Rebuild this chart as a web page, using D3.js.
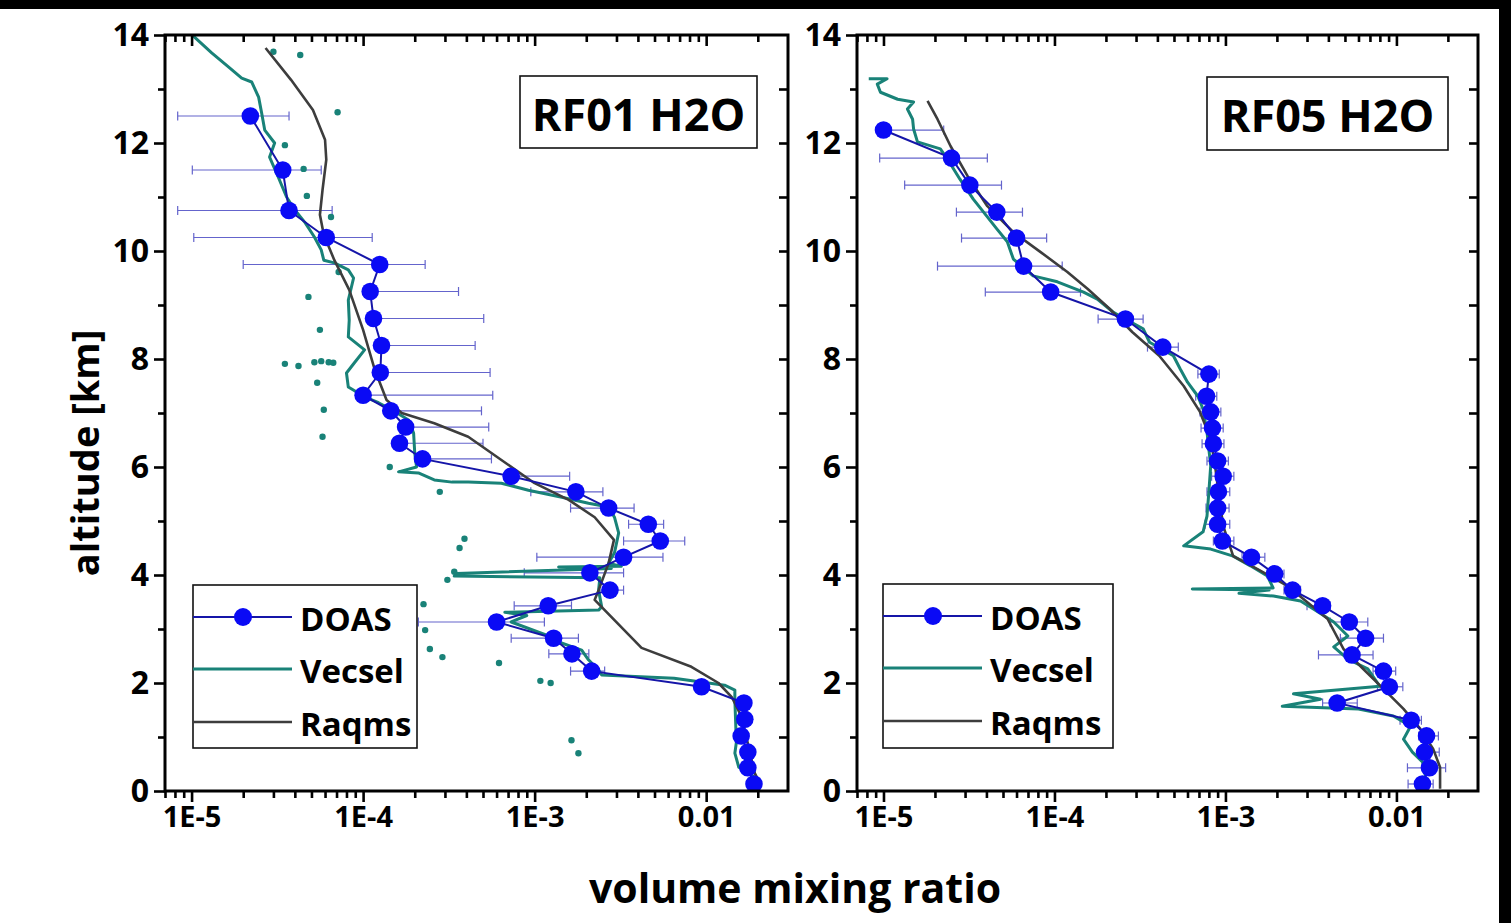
<!DOCTYPE html>
<html><head><meta charset="utf-8">
<script src="https://cdn.jsdelivr.net/npm/d3@7"></script>
<style>
html,body{margin:0;padding:0;background:#fff;}
svg{display:block;}
text{font-family:"Open Sans",sans-serif;font-weight:700;fill:#000;}
</style></head><body>
<svg id="c" width="1511" height="923"></svg>
<script>
// ---------------- DATA ----------------
const xDomain = [7e-6, 0.03];
const yDomain = [0, 14];
const xMajorTicks = [1e-5, 1e-4, 1e-3, 1e-2];
const xMajorLabels = ["1E-5", "1E-4", "1E-3", "0.01"];
const yMajorTicks = [0, 2, 4, 6, 8, 10, 12, 14];
const yMinorTicks = [1, 3, 5, 7, 9, 11, 13];
const seriesNames = ["DOAS", "Vecsel", "Raqms"];
const panelTitles = ["RF01 H2O", "RF05 H2O"];

// DOAS: [altitude km, vmr, lower error end, upper error end]
const rf01Doas = [
  [12.5, 2.2e-5, 8.3e-6, 3.7e-5],
  [11.5, 3.4e-5, 1.01e-5, 5.7e-5],
  [10.75, 3.7e-5, 8.3e-6, 6.6e-5],
  [10.25, 6.1e-5, 1.03e-5, 1.13e-4],
  [9.75, 1.25e-4, 2.0e-5, 2.3e-4],
  [9.25, 1.1e-4, null, 3.6e-4],
  [8.75, 1.15e-4, null, 5.05e-4],
  [8.25, 1.28e-4, null, 4.5e-4],
  [7.75, 1.26e-4, null, 5.5e-4],
  [7.33, 1.0e-4, null, 5.7e-4],
  [7.04, 1.45e-4, null, 4.9e-4],
  [6.74, 1.77e-4, null, 5.4e-4],
  [6.44, 1.63e-4, null, 5.0e-4],
  [6.15, 2.22e-4, null, 5.6e-4],
  [5.83, 7.3e-4, null, 1.6e-3],
  [5.54, 1.74e-3, 9.5e-4, 2.5e-3],
  [5.24, 2.7e-3, 1.62e-3, 3.8e-3],
  [4.94, 4.6e-3, 3.53e-3, 5.65e-3],
  [4.63, 5.4e-3, 3.3e-3, 7.5e-3],
  [4.33, 3.3e-3, 1.03e-3, 5.6e-3],
  [4.04, 2.1e-3, 8.7e-4, 3.3e-3],
  [3.72, 2.75e-3, 2.36e-3, 3.3e-3],
  [3.43, 1.2e-3, 7.6e-4, 1.64e-3],
  [3.13, 6.0e-4, 2.1e-4, 1.14e-3],
  [2.83, 1.29e-3, 7.3e-4, 1.8e-3],
  [2.54, 1.65e-3, 1.21e-3, 2.07e-3],
  [2.22, 2.15e-3, 1.62e-3, 2.56e-3],
  [1.93, 9.4e-3, null, null],
  [1.63, 1.66e-2, null, null],
  [1.33, 1.68e-2, null, null],
  [1.02, 1.6e-2, null, null],
  [0.72, 1.75e-2, null, null],
  [0.43, 1.75e-2, null, null],
  [0.13, 1.9e-2, null, null]
];
const rf05Doas = [
  [12.24, 1.0e-5, null, 2.25e-5],
  [11.72, 2.5e-5, 9.5e-6, 4.05e-5],
  [11.22, 3.2e-5, 1.33e-5, 4.9e-5],
  [10.72, 4.6e-5, 2.67e-5, 6.5e-5],
  [10.24, 6.0e-5, 2.86e-5, 9.0e-5],
  [9.72, 6.6e-5, 2.07e-5, 1.11e-4],
  [9.24, 9.5e-5, 3.94e-5, 1.42e-4],
  [8.74, 2.6e-4, 1.8e-4, 3.3e-4],
  [8.22, 4.3e-4, 3.5e-4, 5.3e-4],
  [7.72, 8.0e-4, 6.9e-4, 9.2e-4],
  [7.31, 7.75e-4, 6.7e-4, 8.9e-4],
  [7.02, 8.2e-4, 7.1e-4, 9.4e-4],
  [6.72, 8.4e-4, 7.2e-4, 9.7e-4],
  [6.43, 8.5e-4, 7.3e-4, 9.8e-4],
  [6.11, 9.0e-4, 7.8e-4, 1.04e-3],
  [5.83, 9.7e-4, 8.3e-4, 1.12e-3],
  [5.54, 9.1e-4, 7.8e-4, 1.06e-3],
  [5.24, 9.0e-4, 7.7e-4, 1.05e-3],
  [4.94, 9.0e-4, 7.6e-4, 1.06e-3],
  [4.63, 9.6e-4, 8.5e-4, 1.12e-3],
  [4.33, 1.42e-3, 1.25e-3, 1.7e-3],
  [4.02, 1.94e-3, 1.75e-3, 2.2e-3],
  [3.72, 2.47e-3, 2.2e-3, 2.75e-3],
  [3.43, 3.7e-3, 3.0e-3, 4.1e-3],
  [3.13, 5.3e-3, 4.1e-3, 6.8e-3],
  [2.83, 6.6e-3, 4.7e-3, 8.4e-3],
  [2.52, 5.5e-3, 3.5e-3, 7.3e-3],
  [2.22, 8.4e-3, 7.3e-3, 9.9e-3],
  [1.93, 9.1e-3, 7.75e-3, 1.09e-2],
  [1.63, 4.5e-3, 3.7e-3, 5.9e-3],
  [1.31, 1.22e-2, 1.05e-2, 1.4e-2],
  [1.02, 1.5e-2, 1.35e-2, 1.76e-2],
  [0.72, 1.46e-2, 1.33e-2, 1.78e-2],
  [0.43, 1.56e-2, 1.16e-2, 1.94e-2],
  [0.13, 1.42e-2, 1.17e-2, 1.64e-2]
];

// Vecsel in-situ profile: [altitude km, vmr]
const rf01Vecsel = [
  [14.1, 9.6e-6], [13.96, 1.04e-5], [13.67, 1.31e-5], [13.41, 1.64e-5], [13.2, 1.96e-5],
  [13.13, 2.24e-5], [12.85, 2.46e-5], [12.56, 2.56e-5], [12.24, 2.67e-5], [12.0, 3.05e-5],
  [11.74, 2.85e-5], [11.37, 3.2e-5], [11.0, 3.58e-5], [10.76, 4.0e-5], [10.52, 4.6e-5],
  [10.26, 5.2e-5], [10.02, 5.7e-5], [9.83, 5.9e-5], [9.78, 6.8e-5], [9.65, 8.2e-5],
  [9.5, 8.8e-5], [9.09, 8.2e-5], [8.72, 8.3e-5], [8.41, 8.2e-5], [8.17, 1.02e-4],
  [7.93, 8.9e-5], [7.74, 8.0e-5], [7.48, 8.2e-5], [7.3, 1.02e-4], [7.19, 1.23e-4],
  [7.06, 1.47e-4], [6.87, 1.84e-4], [6.63, 1.97e-4], [6.26, 2.0e-4], [6.0, 2.05e-4],
  [5.91, 1.61e-4], [5.89, 2.1e-4], [5.76, 2.6e-4], [5.72, 3.3e-4], [5.72, 4.1e-4],
  [5.7, 6.4e-4], [5.57, 9.2e-4], [5.44, 1.44e-3], [5.33, 2.06e-3], [5.26, 2.7e-3],
  [5.07, 2.92e-3], [4.78, 3.09e-3], [4.41, 2.92e-3], [4.22, 2.7e-3], [4.16, 3.2e-3],
  [4.15, 1.38e-3], [4.12, 2.8e-3], [4.03, 3.5e-4], [3.98, 3.4e-4], [3.95, 2.4e-3],
  [3.72, 2.36e-3], [3.41, 2.46e-3], [3.35, 2.36e-3], [3.31, 6.7e-4], [3.25, 9.0e-4],
  [3.13, 7.3e-4], [2.83, 1.31e-3], [2.76, 1.38e-3], [2.61, 1.88e-3], [2.43, 2.06e-3],
  [2.24, 2.36e-3], [2.15, 2.46e-3], [2.09, 6.5e-3], [1.96, 1.28e-2], [1.87, 1.47e-2],
  [1.69, 1.47e-2], [0.9, 1.5e-2], [0.7, 1.47e-2], [0.44, 1.55e-2], [0.33, 1.77e-2], [0.2, 2.02e-2]
];
const rf01VecselDots = [
  [13.69, 3.0e-5], [13.63, 4.3e-5], [12.57, 7.1e-5], [11.96, 3.5e-5], [11.52, 4.5e-5],
  [11.02, 4.7e-5], [10.63, 6.5e-5], [9.61, 7.2e-5], [9.15, 4.8e-5], [8.54, 5.6e-5],
  [7.91, 3.5e-5], [7.87, 4.2e-5], [7.94, 5.2e-5], [7.96, 5.7e-5], [7.94, 6.3e-5],
  [7.93, 6.7e-5], [7.56, 5.4e-5], [7.06, 5.9e-5], [6.56, 5.8e-5], [6.0, 1.43e-4],
  [5.54, 2.8e-4], [4.67, 3.9e-4], [4.5, 3.65e-4], [4.06, 3.4e-4], [3.91, 3.1e-4],
  [3.46, 2.25e-4], [2.98, 2.3e-4], [2.63, 2.45e-4], [2.48, 2.9e-4], [2.37, 6.2e-4],
  [2.04, 1.08e-3], [2.0, 1.24e-3], [0.94, 1.64e-3], [0.7, 1.8e-3]
];
const rf05Vecsel = [
  [13.19, 8.2e-6], [13.19, 1.05e-5], [13.09, 9.2e-6], [12.94, 9.6e-6], [12.81, 1.21e-5],
  [12.76, 1.5e-5], [12.63, 1.38e-5], [12.44, 1.48e-5], [12.26, 1.5e-5], [12.02, 1.58e-5],
  [11.89, 2.15e-5], [11.7, 2.37e-5], [11.33, 2.8e-5], [10.96, 3.35e-5], [10.72, 3.85e-5],
  [10.41, 4.6e-5], [10.17, 5.3e-5], [9.85, 5.75e-5], [9.54, 7.5e-5], [9.43, 1.04e-4],
  [9.24, 1.48e-4], [9.11, 1.78e-4], [8.87, 2.2e-4], [8.8, 2.4e-4], [8.56, 3.3e-4],
  [8.31, 3.6e-4], [8.06, 4.96e-4], [7.81, 5.45e-4], [7.57, 6.0e-4], [7.31, 6.9e-4],
  [7.07, 7.4e-4], [6.65, 7.8e-4], [6.02, 8.2e-4], [5.54, 8.0e-4], [5.09, 7.8e-4],
  [4.8, 7.4e-4], [4.54, 5.7e-4], [4.48, 8.2e-4], [4.35, 1.11e-3], [4.17, 1.4e-3],
  [3.98, 1.76e-3], [3.76, 1.9e-3], [3.74, 6.4e-4], [3.72, 1.8e-3], [3.66, 1.2e-3],
  [3.61, 1.91e-3], [3.52, 2.75e-3], [3.37, 3.27e-3], [3.13, 4.3e-3], [2.87, 5.2e-3],
  [2.67, 4.3e-3], [2.44, 5.2e-3], [2.26, 6.8e-3], [1.94, 8.0e-3], [1.8, 2.5e-3],
  [1.7, 3.6e-3], [1.57, 2.15e-3], [1.52, 6.0e-3], [1.39, 9.6e-3], [1.2, 1.21e-2],
  [0.96, 1.1e-2], [0.72, 1.24e-2], [0.54, 1.42e-2], [0.28, 1.48e-2]
];
const rf05VecselDots = [];

// Raqms model profile: [altitude km, vmr]
const rf01Raqms = [
  [13.76, 2.7e-5], [13.17, 3.8e-5], [12.61, 5.1e-5], [12.06, 6.0e-5], [11.69, 6.1e-5],
  [11.13, 5.8e-5], [10.67, 5.6e-5], [10.3, 5.9e-5], [9.83, 6.8e-5], [9.28, 8.3e-5],
  [8.54, 1.0e-4], [7.8, 1.17e-4], [7.24, 1.37e-4], [7.0, 1.68e-4], [6.81, 2.6e-4],
  [6.56, 4.1e-4], [6.13, 6.4e-4], [5.7, 1.0e-3], [5.39, 1.58e-3], [5.07, 2.24e-3],
  [4.65, 2.9e-3], [4.22, 2.7e-3], [3.72, 2.36e-3], [3.54, 2.24e-3], [2.65, 4.2e-3],
  [2.3, 8.2e-3], [2.0, 1.18e-2], [1.74, 1.41e-2], [1.37, 1.61e-2], [0.33, 1.92e-2],
  [0.15, 2.05e-2]
];
const rf05Raqms = [
  [12.78, 1.81e-5], [12.44, 2.07e-5], [11.94, 2.47e-5], [11.39, 3.1e-5], [10.83, 4.05e-5],
  [10.35, 5.75e-5], [9.98, 8.3e-5], [9.61, 1.19e-4], [9.3, 1.56e-4], [8.93, 2.1e-4],
  [8.5, 2.85e-4], [8.06, 4.1e-4], [7.5, 5.7e-4], [7.02, 7.1e-4], [6.52, 8.2e-4],
  [6.02, 8.7e-4], [5.54, 9.1e-4], [4.91, 9.7e-4], [4.35, 1.11e-3], [4.11, 1.54e-3],
  [3.8, 2.3e-3], [3.5, 3.0e-3], [3.19, 3.95e-3], [2.63, 4.9e-3], [2.26, 6.4e-3],
  [1.89, 8.4e-3], [1.52, 1.1e-2], [1.15, 1.38e-2], [0.78, 1.64e-2], [0.44, 1.8e-2],
  [0.04, 1.8e-2]
];

// ---------------- STYLE / LAYOUT ----------------
const C_DOAS_FILL = "#0a0af5", C_DOAS_LINE = "#1515a8", C_ERR = "#6464cc";
const C_VEC = "#198278", C_RAQ = "#3d3d3d";
const FONT = "'Open Sans',sans-serif";
const yTop = 35, yBot = 791;
const panels = [
  {x0: 165, x1: 788, title: panelTitles[0], tb: [520, 76, 237, 72], lg: [193, 585, 224, 163],
   doas: rf01Doas, vec: rf01Vecsel, dots: rf01VecselDots, raq: rf01Raqms},
  {x0: 857, x1: 1478, title: panelTitles[1], tb: [1207, 77, 241, 73], lg: [883, 584, 230, 164],
   doas: rf05Doas, vec: rf05Vecsel, dots: rf05VecselDots, raq: rf05Raqms}
];

const svg = d3.select("#c");
svg.append("rect").attr("width", 1511).attr("height", 923).attr("fill", "#fff");
// dark scan margins at the top and right edge of the picture
svg.append("rect").attr("x", 0).attr("y", 0).attr("width", 1511).attr("height", 9).attr("fill", "#000");
svg.append("rect").attr("x", 1499).attr("y", 0).attr("width", 12).attr("height", 923).attr("fill", "#000");

const xMinorTicks = [];
for (let e = -6; e <= -2; e++) for (let k = 2; k <= 9; k++) {
  const v = k * Math.pow(10, e);
  if (v >= xDomain[0] && v < xDomain[1] * 0.999) xMinorTicks.push(v);
}
const allY = d3.range(1, 14);

panels.forEach((p, i) => {
  const x = d3.scaleLog().domain(xDomain).range([p.x0, p.x1]);
  const y = d3.scaleLinear().domain(yDomain).range([yBot, yTop]);
  const g = svg.append("g");
  const cid = "clip" + i;
  svg.append("clipPath").attr("id", cid).append("rect")
    .attr("x", p.x0).attr("y", yTop).attr("width", p.x1 - p.x0).attr("height", yBot - yTop);
  const plot = g.append("g").attr("clip-path", `url(#${cid})`);

  const eb = plot.append("g").attr("stroke", C_ERR).attr("stroke-width", 1.2).attr("fill", "none");
  p.doas.forEach(d => {
    const yy = y(d[0]);
    const xl = d[2] != null ? x(d[2]) : (d[3] != null ? x(d[1]) : null);
    const xr = d[3] != null ? x(d[3]) : null;
    if (xl == null || xr == null) return;
    eb.append("line").attr("x1", xl).attr("x2", xr).attr("y1", yy).attr("y2", yy);
    if (d[2] != null) eb.append("line").attr("x1", xl).attr("x2", xl).attr("y1", yy - 4.5).attr("y2", yy + 4.5);
    eb.append("line").attr("x1", xr).attr("x2", xr).attr("y1", yy - 4.5).attr("y2", yy + 4.5);
  });

  const line = d3.line().x(d => x(d[1])).y(d => y(d[0]));
  plot.append("path").datum(p.vec).attr("d", line).attr("fill", "none")
    .attr("stroke", C_VEC).attr("stroke-width", 3).attr("stroke-linejoin", "round");
  plot.append("g").selectAll("circle").data(p.dots).join("circle")
    .attr("cx", d => x(d[1])).attr("cy", d => y(d[0])).attr("r", 3.2).attr("fill", C_VEC);
  plot.append("path").datum(p.raq).attr("d", line).attr("fill", "none")
    .attr("stroke", C_RAQ).attr("stroke-width", 2.6).attr("stroke-linejoin", "round");
  plot.append("path").datum(p.doas).attr("d", line).attr("fill", "none")
    .attr("stroke", C_DOAS_LINE).attr("stroke-width", 2);
  plot.append("g").selectAll("circle").data(p.doas).join("circle")
    .attr("cx", d => x(d[1])).attr("cy", d => y(d[0])).attr("r", 8.8).attr("fill", C_DOAS_FILL);

  const styleAx = s => { s.select(".domain").remove(); s.selectAll("line").attr("stroke", "#000").attr("stroke-width", 2.6); };
  const styleTxt = fs => s => s.selectAll("text").attr("font-size", fs).attr("font-family", FONT).attr("font-weight", 700).attr("fill", "#000");
  g.append("g").attr("transform", `translate(0,${yBot})`)
    .call(d3.axisBottom(x).tickValues(xMajorTicks).tickFormat((d, j) => xMajorLabels[j]).tickSize(11).tickPadding(4))
    .call(styleAx).call(styleTxt(29));
  g.append("g").attr("transform", `translate(0,${yBot})`)
    .call(d3.axisBottom(x).tickValues(xMinorTicks).tickFormat("").tickSize(7)).call(styleAx);
  g.append("g").attr("transform", `translate(0,${yTop})`)
    .call(d3.axisBottom(x).tickValues(xMajorTicks).tickFormat("").tickSize(11)).call(styleAx);
  g.append("g").attr("transform", `translate(0,${yTop})`)
    .call(d3.axisBottom(x).tickValues(xMinorTicks).tickFormat("").tickSize(7)).call(styleAx);
  g.append("g").attr("transform", `translate(${p.x0},0)`)
    .call(d3.axisLeft(y).tickValues(yMajorTicks).tickSize(11).tickPadding(5))
    .call(styleAx).call(styleTxt(32));
  g.append("g").attr("transform", `translate(${p.x0},0)`)
    .call(d3.axisLeft(y).tickValues(yMinorTicks).tickFormat("").tickSize(7)).call(styleAx);
  g.append("g").attr("transform", `translate(${p.x1},0)`)
    .call(d3.axisLeft(y).tickValues(allY).tickFormat("").tickSize(9)).call(styleAx);

  g.append("rect").attr("x", p.x0).attr("y", yTop).attr("width", p.x1 - p.x0).attr("height", yBot - yTop)
    .attr("fill", "none").attr("stroke", "#000").attr("stroke-width", 3);

  g.append("rect").attr("x", p.tb[0]).attr("y", p.tb[1]).attr("width", p.tb[2]).attr("height", p.tb[3])
    .attr("fill", "#fff").attr("stroke", "#111").attr("stroke-width", 1.6);
  g.append("text").attr("x", p.tb[0] + p.tb[2] / 2).attr("y", p.tb[1] + p.tb[3] / 2 + 1)
    .attr("text-anchor", "middle").attr("dominant-baseline", "central").attr("font-size", 45).text(p.title);

  const [lx, ly, lw, lh] = p.lg;
  const lg = g.append("g");
  lg.append("rect").attr("x", lx).attr("y", ly).attr("width", lw).attr("height", lh)
    .attr("fill", "#fff").attr("stroke", "#111").attr("stroke-width", 1.6);
  const rows = [ly + 32, ly + 84, ly + 137];
  const colors = [C_DOAS_LINE, C_VEC, C_RAQ];
  const widths = [2, 3, 2.6];
  seriesNames.forEach((nm, j) => {
    lg.append("line").attr("x1", lx).attr("x2", lx + 99).attr("y1", rows[j]).attr("y2", rows[j])
      .attr("stroke", colors[j]).attr("stroke-width", widths[j]);
    if (j === 0) lg.append("circle").attr("cx", lx + 50).attr("cy", rows[j]).attr("r", 9).attr("fill", C_DOAS_FILL);
    lg.append("text").attr("x", lx + 107).attr("y", rows[j] + 1).attr("dominant-baseline", "central")
      .attr("font-size", 33).text(nm);
  });
});

svg.append("text").attr("transform", "translate(84,453) rotate(-90)").attr("text-anchor", "middle")
  .attr("dominant-baseline", "central").attr("font-size", 38).text("altitude [km]");
svg.append("text").attr("x", 795).attr("y", 887).attr("text-anchor", "middle")
  .attr("dominant-baseline", "central").attr("font-size", 41).text("volume mixing ratio");
</script>
</body></html>
